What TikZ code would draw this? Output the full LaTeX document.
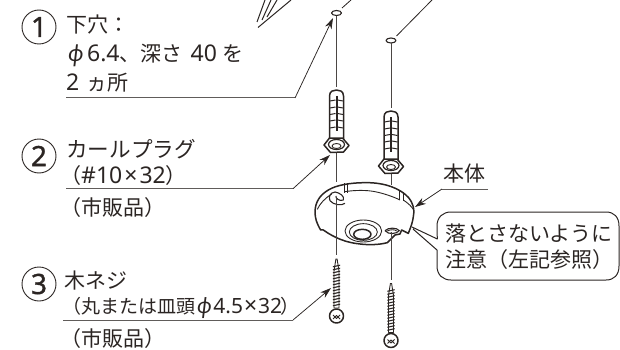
\documentclass[tikz,border=0pt]{standalone}
\usepackage{fontspec}
\setmainfont{Noto Sans CJK JP}
\newfontfamily\numfont{Noto Sans}
\newfontfamily\numbold[FakeBold=1.2]{Noto Sans}
\newfontfamily\phifont[FakeSlant=0.12]{Noto Sans}
\newcommand{\myphi}{{\phifont ϕ}}
\newcommand{\dg}[1]{{\numfont\fontsize{23}{24}\selectfont #1}}
\newcommand{\dgs}[1]{{\numfont\fontsize{21}{24}\selectfont #1}}
\usetikzlibrary{arrows.meta}
\definecolor{ink}{HTML}{2B2523}
\tikzset{
 x=1pt,y=-1pt,
 every path/.style={line join=round},
 txt/.style={anchor=base west,inner sep=0pt,text=ink,font=\fontsize{21}{24}\selectfont},
 numc/.style={circle,draw=ink,line width=0.9pt,minimum size=34pt,inner sep=0pt,text=ink,font=\numbold\fontsize{28}{28}\selectfont},
 lead/.style={draw=ink!75,line width=1pt},
 leadarrow/.style={draw=ink,line width=0.75pt,-{Stealth[length=11pt,width=7pt]}},
 thinline/.style={draw=ink,line width=0.8pt},
 part/.style={draw=ink,line width=0.9pt},
 heavy/.style={draw=ink,line width=1.5pt},
 guide/.style={draw=ink!85,line width=0.9pt},
 plugpart/.pic={
  \draw[heavy,fill=white] (-7,50) -- (-7,6) .. controls (-7,1) and (-3,0) .. (0,0) .. controls (3,0) and (7,1) .. (7,6) -- (7,50);
  \foreach \yy in {11,18,24.5,31,38}{\draw[part,line width=1pt] (-6.5,\yy) -- (-1,\yy-1) (1,\yy-1) -- (6.5,\yy);}
  \draw[heavy,line width=2pt] (0,6) -- (0,41);
  \draw[heavy,fill=white] (-12.5,55) -- (-7,48) -- (6,48) -- (12.5,55.5) -- (7,62) -- (-6,62.5) -- cycle;
  \draw[part,line width=1.2pt,fill=white] (0,54.5) ellipse (8 and 5);
  \draw[part] (0,56) ellipse (4.5 and 2.5);
 },
 screwpart/.pic={
  \draw[part,fill=white] (-.6,0) -- (.6,0) -- (2.5,12) -- (2.5,49) -- (-2.5,49) -- (-2.5,12) -- cycle;
  \foreach \yy in {7,10,...,46}{\draw[part,line width=1.1pt] (-3.6,\yy+.8) -- (3.6,\yy-.8);}
  \draw[heavy,fill=white] (0,57) circle (7);
  \draw[part,fill=white] (-3.5,56) -- (0,59.5) -- (3.5,56) (-3.5,60) -- (0,56.5) -- (3.5,60);
 },
}
\begin{document}
\begin{tikzpicture}
\useasboundingbox (0,0) rectangle (620,350);
% drill fragment at the top
\coordinate (d0) at (258,27.5);
\coordinate (d1) at (291,0);
\coordinate (d2) at (257,22);
\coordinate (d3) at (265,0);
\coordinate (d4) at (262,20);
\coordinate (d5) at (271,0);
\coordinate (d6) at (267,17);
\coordinate (d7) at (277,0);
\draw[thinline,line width=1pt] (d0) -- (d1) (d2) -- (d3) (d4) -- (d5) (d6) -- (d7);
% holes
\draw[part,line width=1.1pt] (336.5,13) ellipse (5 and 2.5);
\draw[part,line width=1.1pt] (391,40.5) ellipse (5 and 2.5);
\coordinate (h1b) at (336.5,16);
\coordinate (h2b) at (391,43.5);
\coordinate (p1t) at (336.5,87);
\coordinate (p2t) at (391,108);
\coordinate (p1b) at (336.5,153);
\coordinate (b1t) at (336.5,182);
\coordinate (p2b) at (391,172);
\coordinate (b2t) at (391,185);
\coordinate (b1i) at (336.5,198);
\coordinate (s1t) at (336.5,255);
\coordinate (b2i) at (391,232);
\coordinate (s2t) at (391,280);
\coordinate (t1a) at (342,8);
\coordinate (t1b) at (351,0);
\coordinate (t2a) at (396.5,36);
\coordinate (t2b) at (432,0);
\draw[thinline] (t1a) -- (t1b) (t2a) -- (t2b);
\draw[guide] (h1b) -- (p1t) (h2b) -- (p2t) (p1b) -- (b1t) (p2b) -- (b2t);
% plugs
\pic at (336.5,90) {plugpart};
\pic at (391,111) {plugpart};
% body
\begin{scope}[shift={(300,170)},x=0.3333pt,y=-0.3333pt]
\draw[heavy,fill=white] (45,125) .. controls (46,95) and (60,75) .. (85,60) .. controls (110,45) and (150,38) .. (200,38) .. controls (255,38) and (300,55) .. (325,82) .. controls (340,100) and (345,120) .. (340,140) .. controls (338,155) and (335,165) .. (325,190)
 -- (305,180) -- (300,192) -- (285,195) .. controls (280,200) and (272,208) .. (262,218) .. controls (235,225) and (205,225) .. (180,222) .. controls (140,218) and (105,205) .. (70,180) -- (62,180) .. controls (50,160) and (45,145) .. (45,125) -- cycle;
\draw[part] (52,118) .. controls (60,100) and (75,85) .. (95,72) (135,65) .. controls (165,60) and (200,60) .. (225,65) .. controls (250,70) and (280,80) .. (300,90) (310,90) .. controls (325,100) and (335,110) .. (340,118);
\draw[part] (132,40) -- (132,70) (142,40) -- (142,68) (298,60) -- (298,90) (310,65) -- (310,92);
\draw[part,line width=1.1pt] (135,100) .. controls (125,108) and (100,105) .. (90,92) .. controls (85,80) and (90,68) .. (105,66) .. controls (120,68) and (135,80) .. (130,90) .. controls (120,95) and (105,85) .. (108,78);
\draw[part] (190,183) ellipse (55 and 33);
\draw[part] (190,186) ellipse (42 and 25);
\draw[heavy] (187,193) ellipse (26 and 15);
\draw[part,line width=1.1pt] (255,182) .. controls (265,172) and (290,172) .. (298,182) .. controls (290,192) and (265,195) .. (255,182);
\draw[part] (262,183) .. controls (270,178) and (285,178) .. (290,183);
\end{scope}
\draw[guide] (b1i) -- (s1t) (b2i) -- (s2t);
% screws
\pic at (336.5,259) {screwpart};
\pic at (391,283.5) {screwpart};
% numbers
\node[numc] (n1) at (39,27) {1};
\node[numc] (n2) at (39,156) {2};
\node[numc] (n3) at (39,284) {3};
% labels
\node[txt] (a1) at (66,33) {下穴：};
\node[txt] (a2) at (67,62) {{\fontsize{22}{24}\selectfont\myphi}\hspace*{4pt}\dg{6.4}、深さ\hspace*{8pt}\dg{40}\hspace*{6pt}を};
\node[txt] (a3) at (66,91) {\dg{2}\hspace*{7pt}ヵ所};
\node[txt,font=\fontsize{21.6}{24}\selectfont] (b1) at (66,157) {カールプラグ};
\node[txt] (b2) at (60,183) {（\dg{\#10}\hspace*{2pt}\dg{×}\hspace*{2pt}\dg{32}）};
\node[txt] (b3) at (60,215) {（市販品）};
\node[txt] (c1) at (64,288) {木ネジ};
\node[txt,font=\fontsize{19}{24}\selectfont] (c2) at (62,313) {（丸または皿頭\hspace*{1pt}{\fontsize{21}{24}\selectfont\myphi}\hspace*{2pt}\dgs{4.5}\hspace*{1pt}\dg{×}\hspace*{1pt}\dgs{32}\hspace*{-2pt}）};
\node[txt] (c3) at (60,346) {（市販品）};
\node[txt] (hon) at (443,181) {本体};
\node[txt] (w1) at (445,241) {落とさないように};
\node[txt] (w2) at (445,267) {注意（左記参照）};
% leader lines
\coordinate (l1a) at (66,98);
\coordinate (l1b) at (295,98);
\coordinate (l1c) at (333,18);
\coordinate (l2a) at (66,188.7);
\coordinate (l2b) at (293,188.7);
\coordinate (l2c) at (330,155);
\coordinate (l3a) at (63,320);
\coordinate (l3b) at (293,320);
\coordinate (l3c) at (331,288);
\coordinate (l4a) at (488,189);
\coordinate (l4b) at (442,189);
\coordinate (l4c) at (415,207);
\draw[lead] (l1a) -- (l1b);
\draw[leadarrow] (l1b) -- (l1c);
\draw[lead] (l2a) -- (l2b);
\draw[leadarrow] (l2b) -- (l2c);
\draw[lead] (l3a) -- (l3b);
\draw[leadarrow] (l3b) -- (l3c);
\draw[lead] (l4a) -- (l4b);
\draw[leadarrow] (l4b) -- (l4c);
% callout
\coordinate (ct) at (412,227);
\coordinate (cb) at (413,229);
\coordinate (cu) at (437.3,239);
\coordinate (cl) at (437,250);
\draw[thinline,line width=1pt] (ct) -- (cu) -- (437,226) .. controls (437,217) and (443,212) .. (451,212) -- (606,212) .. controls (614,212) and (619,217) .. (619,226) -- (619,266) .. controls (619,275) and (614,280) .. (606,280) -- (451,280) .. controls (443,280) and (437,275) .. (437,266) -- (cl) -- (cb);
\end{tikzpicture}
\end{document}
